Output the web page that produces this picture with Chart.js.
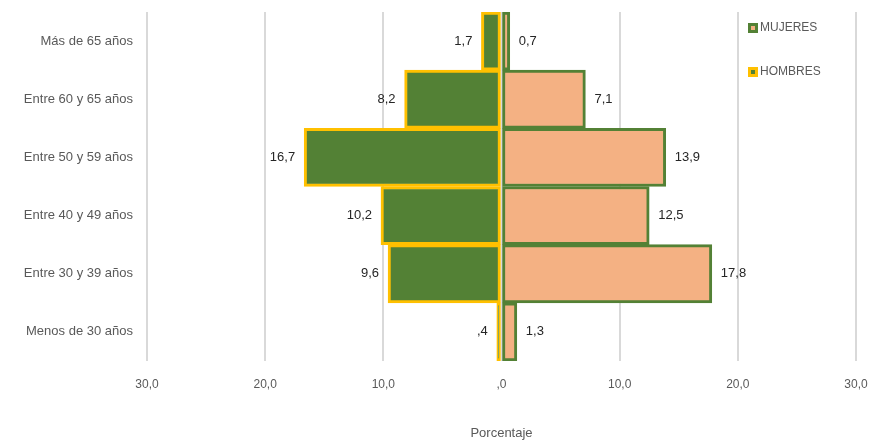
<!DOCTYPE html>
<html>
<head>
<meta charset="utf-8">
<script src="https://cdn.jsdelivr.net/npm/chart.js@4.4.0/dist/chart.umd.min.js"></script>
<style>
html,body{margin:0;padding:0;background:#fff;}
#wrap{width:872px;height:441px;}
</style>
</head>
<body>
<div id="wrap"><canvas id="c" width="872" height="441"></canvas></div>
<script>
const categories = ["Más de 65 años","Entre 60 y 65 años","Entre 50 y 59 años","Entre 40 y 49 años","Entre 30 y 39 años","Menos de 30 años"];
const hombres = [1.7, 8.2, 16.7, 10.2, 9.6, 0.4];
const mujeres = [0.7, 7.1, 13.9, 12.5, 17.8, 1.3];
const hombresLabels = ["1,7","8,2","16,7","10,2","9,6",",4"];
const mujeresLabels = ["0,7","7,1","13,9","12,5","17,8","1,3"];
const tickLabels = {"-30":"30,0","-20":"20,0","-10":"10,0","0":",0","10":"10,0","20":"20,0","30":"30,0"};

const FONT = "'Liberation Sans Narrow', 'Liberation Sans', sans-serif";
const GREEN = '#538135', YELLOW = '#FFC000', SALMON = '#F4B183';

const labelPlugin = {
  id: 'labels',
  afterDatasetsDraw(chart) {
    const ctx = chart.ctx;
    ctx.save();
    ctx.font = "13px " + FONT;
    ctx.fillStyle = '#262626';
    ctx.textBaseline = 'middle';
    const m0 = chart.getDatasetMeta(0), m1 = chart.getDatasetMeta(1);
    m0.data.forEach((el, i) => {
      ctx.textAlign = 'right';
      ctx.fillText(hombresLabels[i], el.x - 9, el.y);
    });
    m1.data.forEach((el, i) => {
      ctx.textAlign = 'left';
      ctx.fillText(mujeresLabels[i], el.x + 9, el.y);
    });
    // legend
    const items = [
      {text: 'MUJERES', fill: SALMON, border: GREEN},
      {text: 'HOMBRES', fill: GREEN, border: YELLOW}
    ];
    const lx = 748, ly = [28, 72];
    ctx.font = "12px " + FONT;
    items.forEach((it, k) => {
      ctx.fillStyle = it.border;
      ctx.fillRect(lx, ly[k] - 5, 10, 10);
      ctx.fillStyle = it.fill;
      ctx.fillRect(lx + 3, ly[k] - 2, 4, 4);
      ctx.fillStyle = '#595959';
      ctx.textAlign = 'left';
      ctx.fillText(it.text, lx + 12, ly[k]);
    });
    ctx.restore();
  }
};

new Chart(document.getElementById('c'), {
  type: 'bar',
  data: {
    labels: categories,
    datasets: [
      { label: 'HOMBRES', data: hombres.map(v => -v), backgroundColor: GREEN, borderColor: YELLOW, borderWidth: 3, borderSkipped: false, barPercentage: 1, categoryPercentage: 1 },
      { label: 'MUJERES', data: mujeres, backgroundColor: SALMON, borderColor: GREEN, borderWidth: 3, borderSkipped: false, barPercentage: 1, categoryPercentage: 1 }
    ]
  },
  options: {
    indexAxis: 'y',
    responsive: false,
    animation: false,
    devicePixelRatio: 1,
    layout: { padding: { top: 12, right: 16, left: 0, bottom: 0 } },
    plugins: { legend: { display: false }, tooltip: { enabled: false } },
    scales: {
      x: {
        stacked: true, min: -30, max: 30,
        border: { display: false },
        grid: { color: '#D9D9D9', lineWidth: 2, drawTicks: false },
        ticks: { stepSize: 10, padding: 16, color: '#595959', font: { family: FONT, size: 12 },
          callback: v => tickLabels[String(v)] },
        title: { display: true, text: 'Porcentaje', color: '#595959', font: { family: FONT, size: 13 }, padding: { top: 30, bottom: 0 } },
        afterFit: s => { s.height = 80; s.paddingLeft = 0; s.paddingRight = 0; }
      },
      y: {
        stacked: true,
        border: { display: false },
        grid: { display: false, drawTicks: false },
        ticks: { padding: 14, color: '#595959', font: { family: FONT, size: 13 } },
        afterFit: s => { s.width = 147; s.paddingTop = 0; s.paddingBottom = 0; }
      }
    }
  },
  plugins: [labelPlugin]
});
</script>
</body>
</html>
